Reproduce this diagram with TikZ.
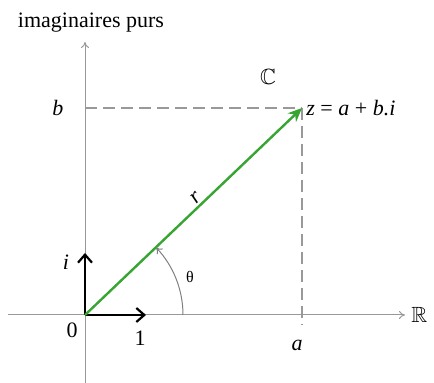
\documentclass[tikz,border=0pt]{standalone}
\usepackage{amssymb}
\usepackage{fontspec}
\setmainfont{Liberation Serif}
\usetikzlibrary{arrows.meta,positioning}
\definecolor{vecgreen}{RGB}{55,165,50}

\begin{document}
\begin{tikzpicture}[
    x=0.5pt, y=0.5pt,
    axis/.style={draw=gray!80, line width=0.5pt, -{To[length=3pt,width=4pt]}},
    unit/.style={line width=1.1pt, -{Straight Barb[length=4pt,width=7pt,line width=1.1pt]}},
    guide/.style={draw=gray!80, dash pattern=on 6pt off 3pt, line width=0.6pt},
    lbl/.style={font=\fontsize{11}{13}\selectfont, inner sep=1pt}
]
\useasboundingbox (0,0) rectangle (434,383);

% axes
\coordinate (O) at (85,68);
\coordinate (xl) at (8,68);
\coordinate (xr) at (405,68);
\coordinate (yb) at (85,0);
\coordinate (yt) at (85,341);
\draw[axis] (xl) -- (xr);
\draw[axis] (yb) -- (yt);
\node[lbl, right=2pt of xr] (R) {$\mathbb{R}$};
\node[lbl, anchor=south] (im) at (91,348) {imaginaires purs};
\node[lbl] (C) at (268,306) {$\mathbb{C}$};

% point z
\coordinate (z) at (302,275);
\coordinate (zb) at (85,275);
\coordinate (za) at (302,58);
\draw[guide] (zb) -- (z);
\draw[guide] (z) -- (za);
\node[lbl] (b) at (58,275) {\textit{b}};
\node[lbl] (a) at (297,38) {\textit{a}};
\node[lbl, right=1pt of z] (zlbl) {\textit{z} = \textit{a} + \textit{b.i}};

% unit vectors
\coordinate (e1) at (146,68);
\coordinate (e2) at (85,130);
\draw[unit] (O) -- (e1);
\draw[unit] (O) -- (e2);
\node[lbl] (one) at (140,45) {1};
\node[lbl] (i) at (66,121) {\textit{i}};
\node[lbl] (zero) at (72,53) {0};

% vector and angle
\draw[vecgreen, line width=1.2pt, -{Stealth[length=7pt,width=6pt]}] (O) -- (z);
\node[lbl, rotate=44] (r) at (196,185) {\textit{r}};
\draw[gray, line width=0.5pt, -{To[length=3pt,width=4pt]}] (183,68) arc[start angle=0, end angle=43.6, radius=98];
\node[lbl, font=\footnotesize] (th) at (190,106) {θ};
\end{tikzpicture}
\end{document}
